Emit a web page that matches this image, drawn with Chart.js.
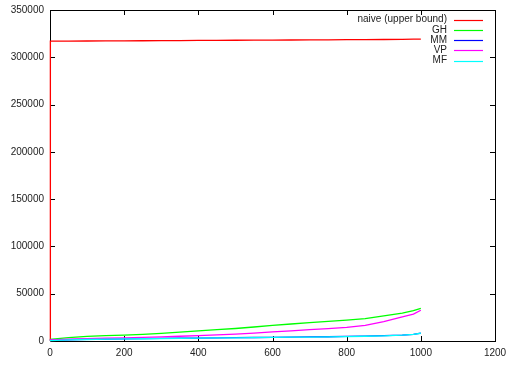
<!DOCTYPE html>
<html>
<head>
<meta charset="utf-8">
<script src="https://cdn.jsdelivr.net/npm/chart.js@4"></script>
<style>
  html, body { margin: 0; padding: 0; background: #fff; }
  #wrap { width: 508px; height: 365px; }
</style>
</head>
<body>
<div id="wrap"><canvas id="chart" width="508" height="365"></canvas></div>
<script>
// datos
const xValues = [0, 1, 50, 100, 150, 200, 250, 300, 350, 400, 450, 500, 550, 600, 650, 700, 750, 800, 850, 900, 950, 980, 1000];
const naive = [0, 317000, 317100, 317200, 317300, 317400, 317500, 317600, 317700, 317800, 317900, 318000, 318100, 318200, 318300, 318400, 318500, 318600, 318700, 318800, 318950, 319100, 319300];
const gh = [1500, 1800, 3500, 4800, 5600, 6200, 7000, 8000, 9400, 10800, 12000, 13200, 14800, 16500, 18000, 19500, 20800, 22000, 23600, 26500, 29500, 32000, 34500];
const mm = [500, 600, 1300, 1700, 2000, 2300, 2500, 2700, 2900, 3100, 3300, 3500, 3700, 3900, 4100, 4300, 4500, 4800, 5100, 5600, 6300, 7000, 8300];
const vp = [1000, 1200, 2000, 2500, 3000, 3400, 3900, 4400, 5000, 5700, 6500, 7300, 8400, 9600, 10800, 12000, 13000, 14300, 16500, 20500, 25500, 28500, 32500];
const mf = [400, 500, 1200, 1600, 1900, 2200, 2400, 2600, 2800, 3000, 3200, 3400, 3600, 3800, 4000, 4200, 4400, 4700, 5000, 5500, 6200, 6900, 8200];

const seriesNames = ["naive (upper bound)", "GH", "MM", "VP", "MF"];
const seriesColors = ["#ff0000", "#00ff00", "#0000ff", "#ff00ff", "#00ffff"];
const seriesData = [naive, gh, mm, vp, mf];

const xTicks = [0, 200, 400, 600, 800, 1000, 1200];
const yTicks = [0, 50000, 100000, 150000, 200000, 250000, 300000, 350000];

const FONT = "Liberation Sans, Arial, sans-serif";

// marco y ticks hacia dentro (estilo gnuplot), dibujados antes de las lineas
const innerTicks = {
    id: "innerTicks",
    beforeDatasetsDraw(chart) {
        const { ctx, chartArea: a, scales } = chart;
        ctx.save();
        ctx.strokeStyle = "#000";
        ctx.lineWidth = 1;
        ctx.beginPath();
        xTicks.forEach(v => {
            const px = Math.round(scales.x.getPixelForValue(v)) + 0.5;
            ctx.moveTo(px, a.bottom); ctx.lineTo(px, a.bottom - 5);
            ctx.moveTo(px, a.top); ctx.lineTo(px, a.top + 5);
        });
        yTicks.forEach(v => {
            const py = Math.round(scales.y.getPixelForValue(v)) + 0.5;
            ctx.moveTo(a.left, py); ctx.lineTo(a.left + 5, py);
            ctx.moveTo(a.right, py); ctx.lineTo(a.right - 5, py);
        });
        ctx.stroke();
        ctx.strokeRect(Math.round(a.left) + 0.5, Math.round(a.top) + 0.5,
            Math.round(a.right - a.left), Math.round(a.bottom - a.top));
        ctx.restore();
    }
};

// leyenda estilo gnuplot: texto a la derecha y muestra de linea
const gnuLegend = {
    id: "gnuLegend",
    afterDraw(chart) {
        const { ctx } = chart;
        ctx.save();
        ctx.font = "10px " + FONT;
        ctx.textAlign = "right";
        ctx.textBaseline = "middle";
        chart.data.datasets.forEach((ds, i) => {
            const y = 19.5 + i * 10.3;
            ctx.fillStyle = "#222";
            ctx.fillText(ds.label, 447, y);
            ctx.strokeStyle = ds.borderColor;
            ctx.lineWidth = 1.2;
            ctx.beginPath();
            ctx.moveTo(454, Math.round(y) + 0.5);
            ctx.lineTo(483, Math.round(y) + 0.5);
            ctx.stroke();
        });
        ctx.restore();
    }
};

const ctx = document.getElementById("chart").getContext("2d");

new Chart(ctx, {
    type: "line",
    data: {
        datasets: seriesNames.map((name, i) => ({
            label: name,
            data: xValues.map((x, j) => ({ x: x, y: seriesData[i][j] })),
            borderColor: seriesColors[i],
            backgroundColor: seriesColors[i],
            borderWidth: 1.3,
            pointRadius: 0,
            tension: 0,
            fill: false,
            clip: false,
            order: -i
        }))
    },
    options: {
        responsive: false,
        animation: false,
        layout: { padding: { top: 10, right: 13, left: 0, bottom: 0 } },
        plugins: {
            legend: { display: false },
            tooltip: { enabled: false }
        },
        scales: {
            x: {
                type: "linear",
                min: 0,
                max: 1200,
                afterFit: s => { s.height = 24; s.paddingLeft = 0; s.paddingRight = 0; },
                afterBuildTicks: s => { s.ticks = xTicks.map(v => ({ value: v })); },
                grid: { display: false, drawTicks: false },
                border: { display: false },
                ticks: {
                    color: "#222", font: { family: FONT, size: 10 }, padding: 6, maxRotation: 0,
                    callback: v => String(v)
                }
            },
            y: {
                type: "linear",
                min: 0,
                max: 350000,
                afterFit: s => { s.width = 50; s.paddingTop = 0; s.paddingBottom = 0; },
                afterBuildTicks: s => { s.ticks = yTicks.map(v => ({ value: v })); },
                grid: { display: false, drawTicks: false },
                border: { display: false },
                ticks: {
                    color: "#222", font: { family: FONT, size: 10 }, padding: 6,
                    callback: v => String(v)
                }
            }
        }
    },
    plugins: [innerTicks, gnuLegend]
});
</script>
</body>
</html>
